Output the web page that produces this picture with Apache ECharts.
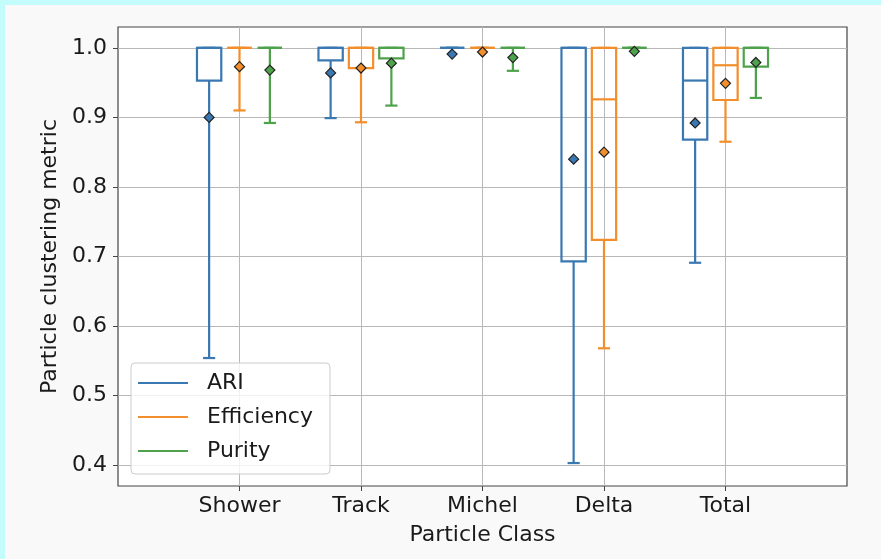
<!DOCTYPE html>
<html>
<head>
<meta charset="utf-8">
<script src="https://cdn.jsdelivr.net/npm/echarts@6/dist/echarts.min.js"></script>
<style>
  html, body { margin: 0; background: #c4fbfb; }
  #main { position: absolute; left: 5px; top: 5px; width: 876px; height: 554px; }
</style>
</head>
<body>
<div id="main"></div>
<script>
var categories = ['Shower', 'Track', 'Michel', 'Delta', 'Total'];
var metrics = ['ARI', 'Efficiency', 'Purity'];
var yTicks = [0.4, 0.5, 0.6, 0.7, 0.8, 0.9, 1.0];

// lower whisker, Q1, median, Q3, upper whisker, mean (per class)
var ariLow    = [0.554, 0.899, 1.000, 0.403, 0.691];
var ariQ1     = [0.953, 0.982, 1.000, 0.693, 0.868];
var ariMed    = [1.000, 1.000, 1.000, 1.000, 0.953];
var ariQ3     = [1.000, 1.000, 1.000, 1.000, 1.000];
var ariHigh   = [1.000, 1.000, 1.000, 1.000, 1.000];
var ariMean   = [0.900, 0.964, 0.991, 0.840, 0.892];

var effLow    = [0.910, 0.893, 1.000, 0.568, 0.865];
var effQ1     = [1.000, 0.971, 1.000, 0.724, 0.925];
var effMed    = [1.000, 1.000, 1.000, 0.926, 0.975];
var effQ3     = [1.000, 1.000, 1.000, 1.000, 1.000];
var effHigh   = [1.000, 1.000, 1.000, 1.000, 1.000];
var effMean   = [0.973, 0.971, 0.994, 0.850, 0.949];

var purLow    = [0.892, 0.917, 0.967, 1.000, 0.928];
var purQ1     = [1.000, 0.985, 1.000, 1.000, 0.973];
var purMed    = [1.000, 1.000, 1.000, 1.000, 1.000];
var purQ3     = [1.000, 1.000, 1.000, 1.000, 1.000];
var purHigh   = [1.000, 1.000, 1.000, 1.000, 1.000];
var purMean   = [0.968, 0.978, 0.986, 0.995, 0.979];

var colors = ['#3a78b2', '#f28e2b', '#4ea24b'];
var offsets = [-0.25, 0, 0.25];
var boxWidth = 0.2;
var font = 'DejaVu Sans';
var textColor = '#1a1a1a';

var stats = [
  [ariLow, ariQ1, ariMed, ariQ3, ariHigh, ariMean],
  [effLow, effQ1, effMed, effQ3, effHigh, effMean],
  [purLow, purQ1, purMed, purQ3, purHigh, purMean]
];

function renderBox(params, api) {
  var x = api.value(0);
  var cx = api.coord([x, 1])[0];
  var half = api.size([boxWidth, 0])[0] / 2;
  var cap = half / 2;
  var yLow = api.coord([x, api.value(1)])[1];
  var yQ1 = api.coord([x, api.value(2)])[1];
  var yMed = api.coord([x, api.value(3)])[1];
  var yQ3 = api.coord([x, api.value(4)])[1];
  var yHigh = api.coord([x, api.value(5)])[1];
  var st = { stroke: api.visual('color'), lineWidth: 2.2, fill: 'none' };
  return {
    type: 'group',
    children: [
      { type: 'rect', shape: { x: cx - half, y: yQ3, width: 2 * half, height: yQ1 - yQ3 }, style: st },
      { type: 'line', shape: { x1: cx - half, y1: yMed, x2: cx + half, y2: yMed }, style: st },
      { type: 'line', shape: { x1: cx, y1: yQ1, x2: cx, y2: yLow }, style: st },
      { type: 'line', shape: { x1: cx, y1: yQ3, x2: cx, y2: yHigh }, style: st },
      { type: 'line', shape: { x1: cx - cap, y1: yLow, x2: cx + cap, y2: yLow }, style: st },
      { type: 'line', shape: { x1: cx - cap, y1: yHigh, x2: cx + cap, y2: yHigh }, style: st }
    ]
  };
}

var series = [];
metrics.forEach(function (name, m) {
  var s = stats[m];
  var boxData = categories.map(function (c, i) {
    return [i + 1 + offsets[m], s[0][i], s[1][i], s[2][i], s[3][i], s[4][i]];
  });
  var meanData = categories.map(function (c, i) {
    return [i + 1 + offsets[m], s[5][i]];
  });
  series.push({
    name: name,
    type: 'custom',
    renderItem: renderBox,
    itemStyle: { color: colors[m] },
    encode: { x: 0, y: [1, 2, 3, 4, 5] },
    data: boxData,
    z: 2
  });
  series.push({
    name: name + ' mean',
    type: 'scatter',
    symbol: 'diamond',
    symbolSize: 10,
    itemStyle: { color: colors[m], borderColor: '#222', borderWidth: 1.2, opacity: 1 },
    data: meanData,
    z: 3
  });
});

var chart = echarts.init(document.getElementById('main'));
var option = {
  backgroundColor: '#f9f9f9',
  animation: false,
  textStyle: { fontFamily: font, color: textColor },
  grid: {
    left: 113, top: 22, right: 34, bottom: 73,
    show: true, backgroundColor: '#ffffff', borderColor: '#444', borderWidth: 1.2
  },
  legend: {
    orient: 'vertical',
    left: 126, top: 358,
    data: metrics.map(function (n) { return { name: n, icon: 'rect' }; }),
    itemWidth: 50, itemHeight: 2, itemGap: 8,
    padding: [7, 17, 10, 7],
    backgroundColor: 'rgba(255,255,255,0.8)',
    borderColor: '#cccccc', borderWidth: 1, borderRadius: 4,
    textStyle: { fontFamily: font, fontSize: 22, color: textColor, lineHeight: 26, padding: [0, 0, 0, 14] }
  },
  xAxis: {
    type: 'value', min: 0, max: 6,
    name: 'Particle Class', nameLocation: 'middle', nameGap: 38,
    nameTextStyle: { fontFamily: font, fontSize: 22, color: textColor },
    axisLine: { show: false },
    axisTick: { show: true, length: 5, lineStyle: { color: '#444' }, customValues: [1, 2, 3, 4, 5] },
    axisLabel: {
      customValues: [1, 2, 3, 4, 5], margin: 9,
      fontFamily: font, fontSize: 22, color: textColor,
      formatter: function (v) { return categories[v - 1] || ''; }
    },
    splitLine: { show: true, lineStyle: { color: '#b8b8b8', width: 1 } }
  },
  yAxis: {
    type: 'value', min: 0.37, max: 1.03,
    name: 'Particle clustering metric', nameLocation: 'middle', nameGap: 51, nameRotate: 90,
    nameTextStyle: { fontFamily: font, fontSize: 22, color: textColor },
    axisLine: { show: false },
    axisTick: { show: true, length: 5, lineStyle: { color: '#444' }, customValues: yTicks },
    axisLabel: {
      customValues: yTicks, margin: 11,
      fontFamily: font, fontSize: 22, color: textColor,
      formatter: function (v) { return v.toFixed(1); }
    },
    splitLine: { show: true, lineStyle: { color: '#b8b8b8', width: 1 } }
  },
  series: series
};
chart.setOption(option);
window.onresize = function () {
  chart.resize();
};
</script>
</body>
</html>
